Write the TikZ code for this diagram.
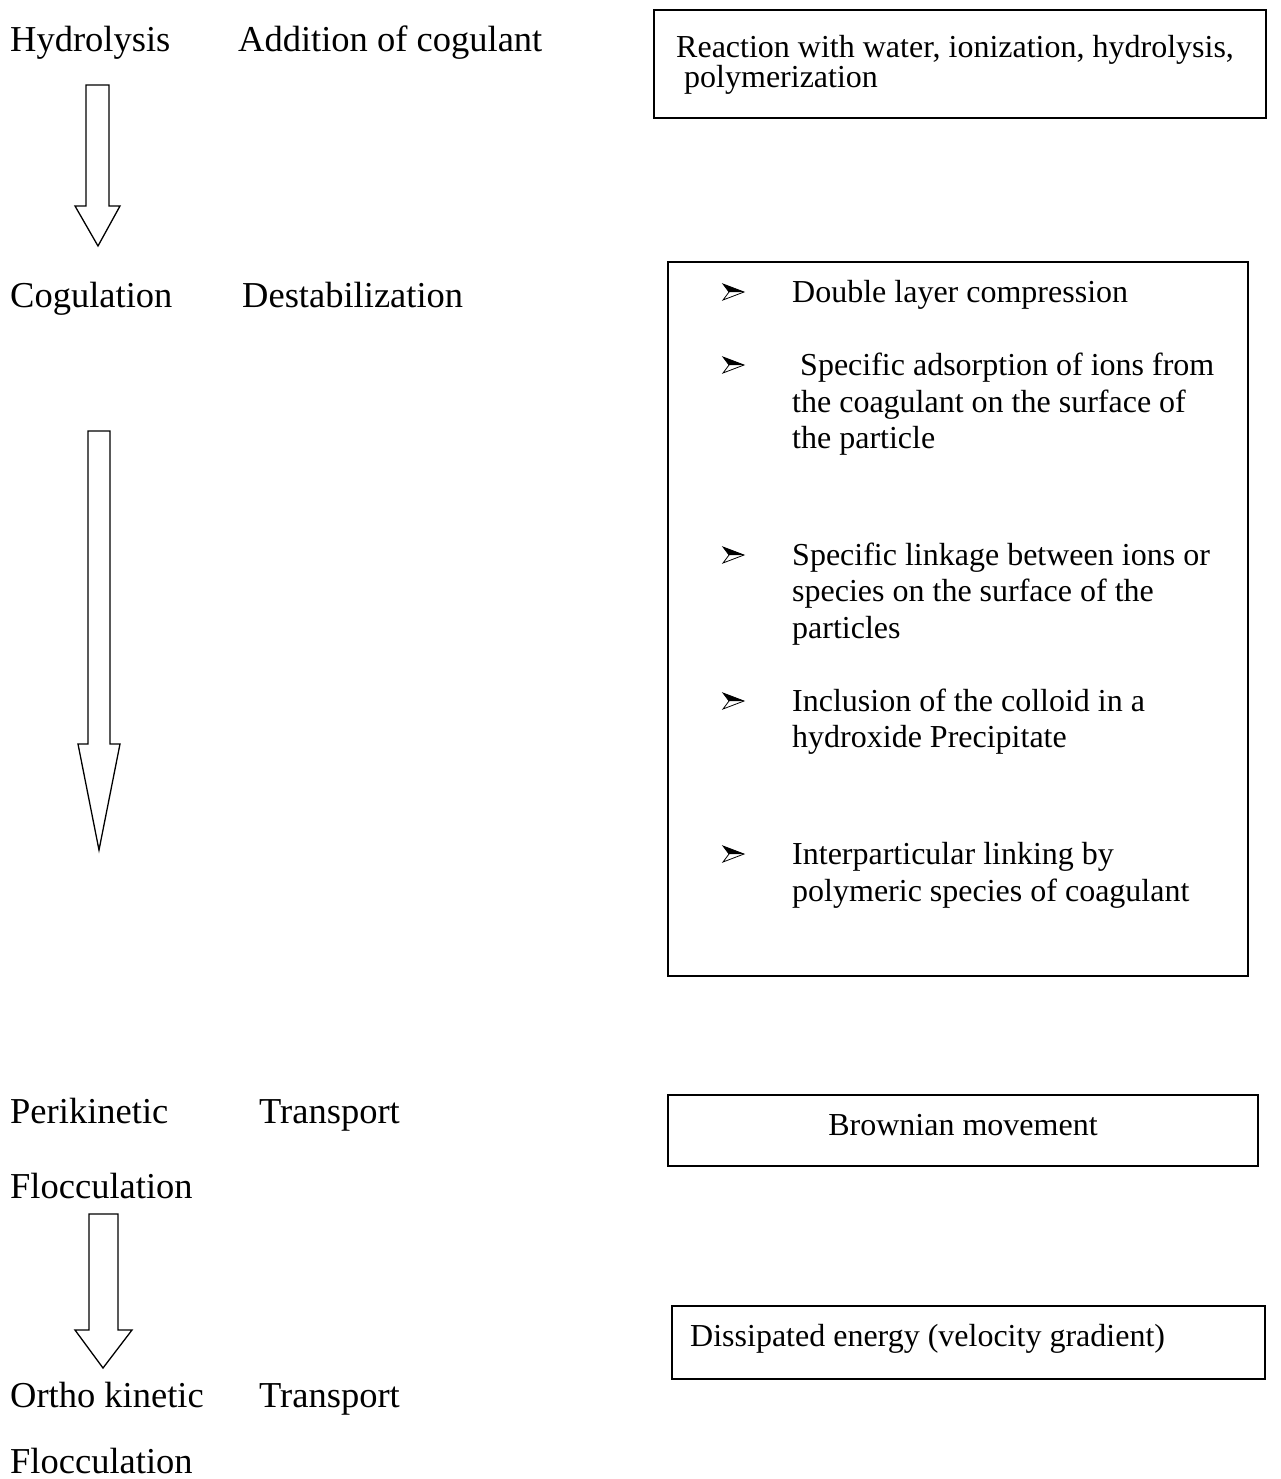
\documentclass[tikz,border=0pt]{standalone}
\usepackage{fontspec}
\setmainfont{Liberation Serif}
\begin{document}
\begin{tikzpicture}[x=1pt,y=-1pt,
  lefttext/.style={anchor=base west,inner sep=0pt,font=\fontsize{36.5}{40}\selectfont},
  boxtext/.style={anchor=base west,inner sep=0pt,font=\fontsize{32}{36}\selectfont},
  frame/.style={draw,line width=1.6pt},
  blockarrow/.style={draw,line width=1.3pt,line join=miter,fill=white},
  arrbullet/.pic={
    \fill[black] (0,-8) -- (21,0) -- (6,0) -- cycle;
    \draw[line width=0.8pt,line join=miter] (0,-8) -- (21,0) -- (0,8) -- (6,0) -- cycle;
  }]
\useasboundingbox (0,0) rectangle (1281,1479);
\fill[white] (0,0) rectangle (1281,1479);
% left labels
\node[lefttext] (hyd) at (10,52) {Hydrolysis};
\node[lefttext] (add) at (238,52) {Addition of cogulant};
\node[lefttext] (cog) at (10,307) {Cogulation};
\node[lefttext] (des) at (242,307) {Destabilization};
\node[lefttext] (peri) at (10,1123) {Perikinetic};
\node[lefttext] (tr1) at (259,1123) {Transport};
\node[lefttext] (floc1) at (10,1198) {Flocculation};
\node[lefttext] (ortho) at (10,1407) {Ortho kinetic};
\node[lefttext] (tr2) at (259,1407) {Transport};
\node[lefttext] (floc2) at (10,1473) {Flocculation};
% block arrows
\draw[blockarrow] (86,85) -- (109,85) -- (109,206) -- (120,206) -- (98,246) -- (75,206) -- (86,206) -- cycle;
\draw[blockarrow] (88,431) -- (110,431) -- (110,744) -- (120,744) -- (99,850) -- (78,744) -- (88,744) -- cycle;
\draw[blockarrow] (89,1214) -- (118,1214) -- (118,1330) -- (132,1330) -- (103,1368) -- (75,1330) -- (89,1330) -- cycle;
% box 1
\draw[frame] (654,10) rectangle (1266,118);
\node[boxtext] (b1a) at (676,58) {Reaction with water, ionization, hydrolysis,};
\node[boxtext] (b1b) at (676,88) {\ polymerization};
% box 2
\draw[frame] (668,262) rectangle (1248,976);
\pic at (723,292) {arrbullet};
\node[boxtext] (t1) at (792,302) {Double layer compression};
\pic at (723,365) {arrbullet};
\node[boxtext] (t2a) at (792,375) {\ Specific adsorption of ions from};
\node[boxtext] (t2b) at (792,412) {the coagulant on the surface of};
\node[boxtext] (t2c) at (792,448) {the particle};
\pic at (723,555) {arrbullet};
\node[boxtext] (t3a) at (792,565) {Specific linkage between ions or};
\node[boxtext] (t3b) at (792,601) {species on the surface of the};
\node[boxtext] (t3c) at (792,638) {particles};
\pic at (723,701) {arrbullet};
\node[boxtext] (t4a) at (792,711) {Inclusion of the colloid in a};
\node[boxtext] (t4b) at (792,747) {hydroxide Precipitate};
\pic at (723,854) {arrbullet};
\node[boxtext] (t5a) at (792,864) {Interparticular linking by};
\node[boxtext] (t5b) at (792,901) {polymeric species of coagulant};
% box 3
\draw[frame] (668,1095) rectangle (1258,1166);
\node[boxtext,anchor=base] (t6) at (963,1135) {Brownian movement};
% box 4
\draw[frame] (672,1306) rectangle (1265,1379);
\node[boxtext] (t7) at (690,1346) {Dissipated energy (velocity gradient)};
\end{tikzpicture}
\end{document}
